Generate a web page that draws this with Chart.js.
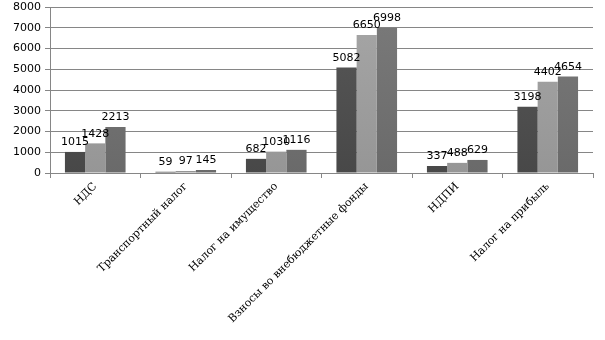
<!DOCTYPE html>
<html>
<head>
<meta charset="utf-8">
<script src="https://cdn.jsdelivr.net/npm/chart.js@4"></script>
<style>
  html, body { margin: 0; padding: 0; background: #fff; }
  #wrap { width: 605px; height: 340px; }
</style>
</head>
<body>
<div id="wrap"><canvas id="taxChart" width="605" height="340"></canvas></div>
<script>
const categories = ['НДС', 'Транспортный налог', 'Налог на имущество', 'Взносы во внебюджетные фонды', 'НДПИ', 'Налог на прибыль'];
const series1 = [1015, 59, 682, 5082, 337, 3198];
const series2 = [1428, 97, 1030, 6650, 488, 4402];
const series3 = [2213, 145, 1116, 6998, 629, 4654];
const yTicks = [0, 1000, 2000, 3000, 4000, 5000, 6000, 7000, 8000];

const ctx = document.getElementById('taxChart').getContext('2d');

// vertical shading of each bar, a bit darker at the bottom
function shade(top, bottom) {
  return (c) => {
    const area = c.chart.chartArea;
    if (!area) return top;
    const g = c.chart.ctx.createLinearGradient(0, area.top, 0, area.bottom);
    g.addColorStop(0, top);
    g.addColorStop(1, bottom);
    return g;
  };
}

const valueLabels = {
  id: 'valueLabels',
  afterDatasetsDraw(chart) {
    const c = chart.ctx;
    c.save();
    c.font = '11px "DejaVu Sans"';
    c.fillStyle = '#000';
    c.textAlign = 'center';
    c.textBaseline = 'bottom';
    chart.data.datasets.forEach((ds, i) => {
      chart.getDatasetMeta(i).data.forEach((bar, j) => {
        c.fillText(String(ds.data[j]), bar.x, bar.y - 4);
      });
    });
    c.restore();
  }
};

new Chart(ctx, {
  type: 'bar',
  data: {
    labels: categories,
    datasets: [
      { label: 'Ряд 1', data: series1, backgroundColor: shade('#585858', '#484848') },
      { label: 'Ряд 2', data: series2, backgroundColor: shade('#a6a6a6', '#969696') },
      { label: 'Ряд 3', data: series3, backgroundColor: shade('#7a7a7a', '#6a6a6a') },
    ]
  },
  options: {
    responsive: false,
    animation: false,
    devicePixelRatio: 1,
    layout: { padding: { top: 7, right: 12, left: 0, bottom: 0 } },
    datasets: { bar: { categoryPercentage: 0.67, barPercentage: 1.0 } },
    plugins: { legend: { display: false }, tooltip: { enabled: false } },
    scales: {
      x: {
        afterFit: (s) => { s.height = 167; },
        grid: { offset: true, drawOnChartArea: false, tickLength: 5, color: '#868686' },
        border: { color: '#868686' },
        ticks: {
          minRotation: 45, maxRotation: 45, autoSkip: false,
          color: '#000', padding: 2,
          font: { family: '"DejaVu Serif"', size: 11 }
        }
      },
      y: {
        min: 0, max: 8000,
        afterFit: (s) => { s.width = 50; s.paddingTop = 0; s.paddingBottom = 0; },
        afterBuildTicks: (s) => { s.ticks = yTicks.map(v => ({ value: v })); },
        grid: { color: '#868686', tickLength: 5 },
        border: { color: '#868686' },
        ticks: {
          color: '#000', padding: 4,
          font: { family: '"DejaVu Sans"', size: 11 },
          callback: (v) => String(v)
        }
      }
    }
  },
  plugins: [valueLabels]
});
</script>
</body>
</html>
